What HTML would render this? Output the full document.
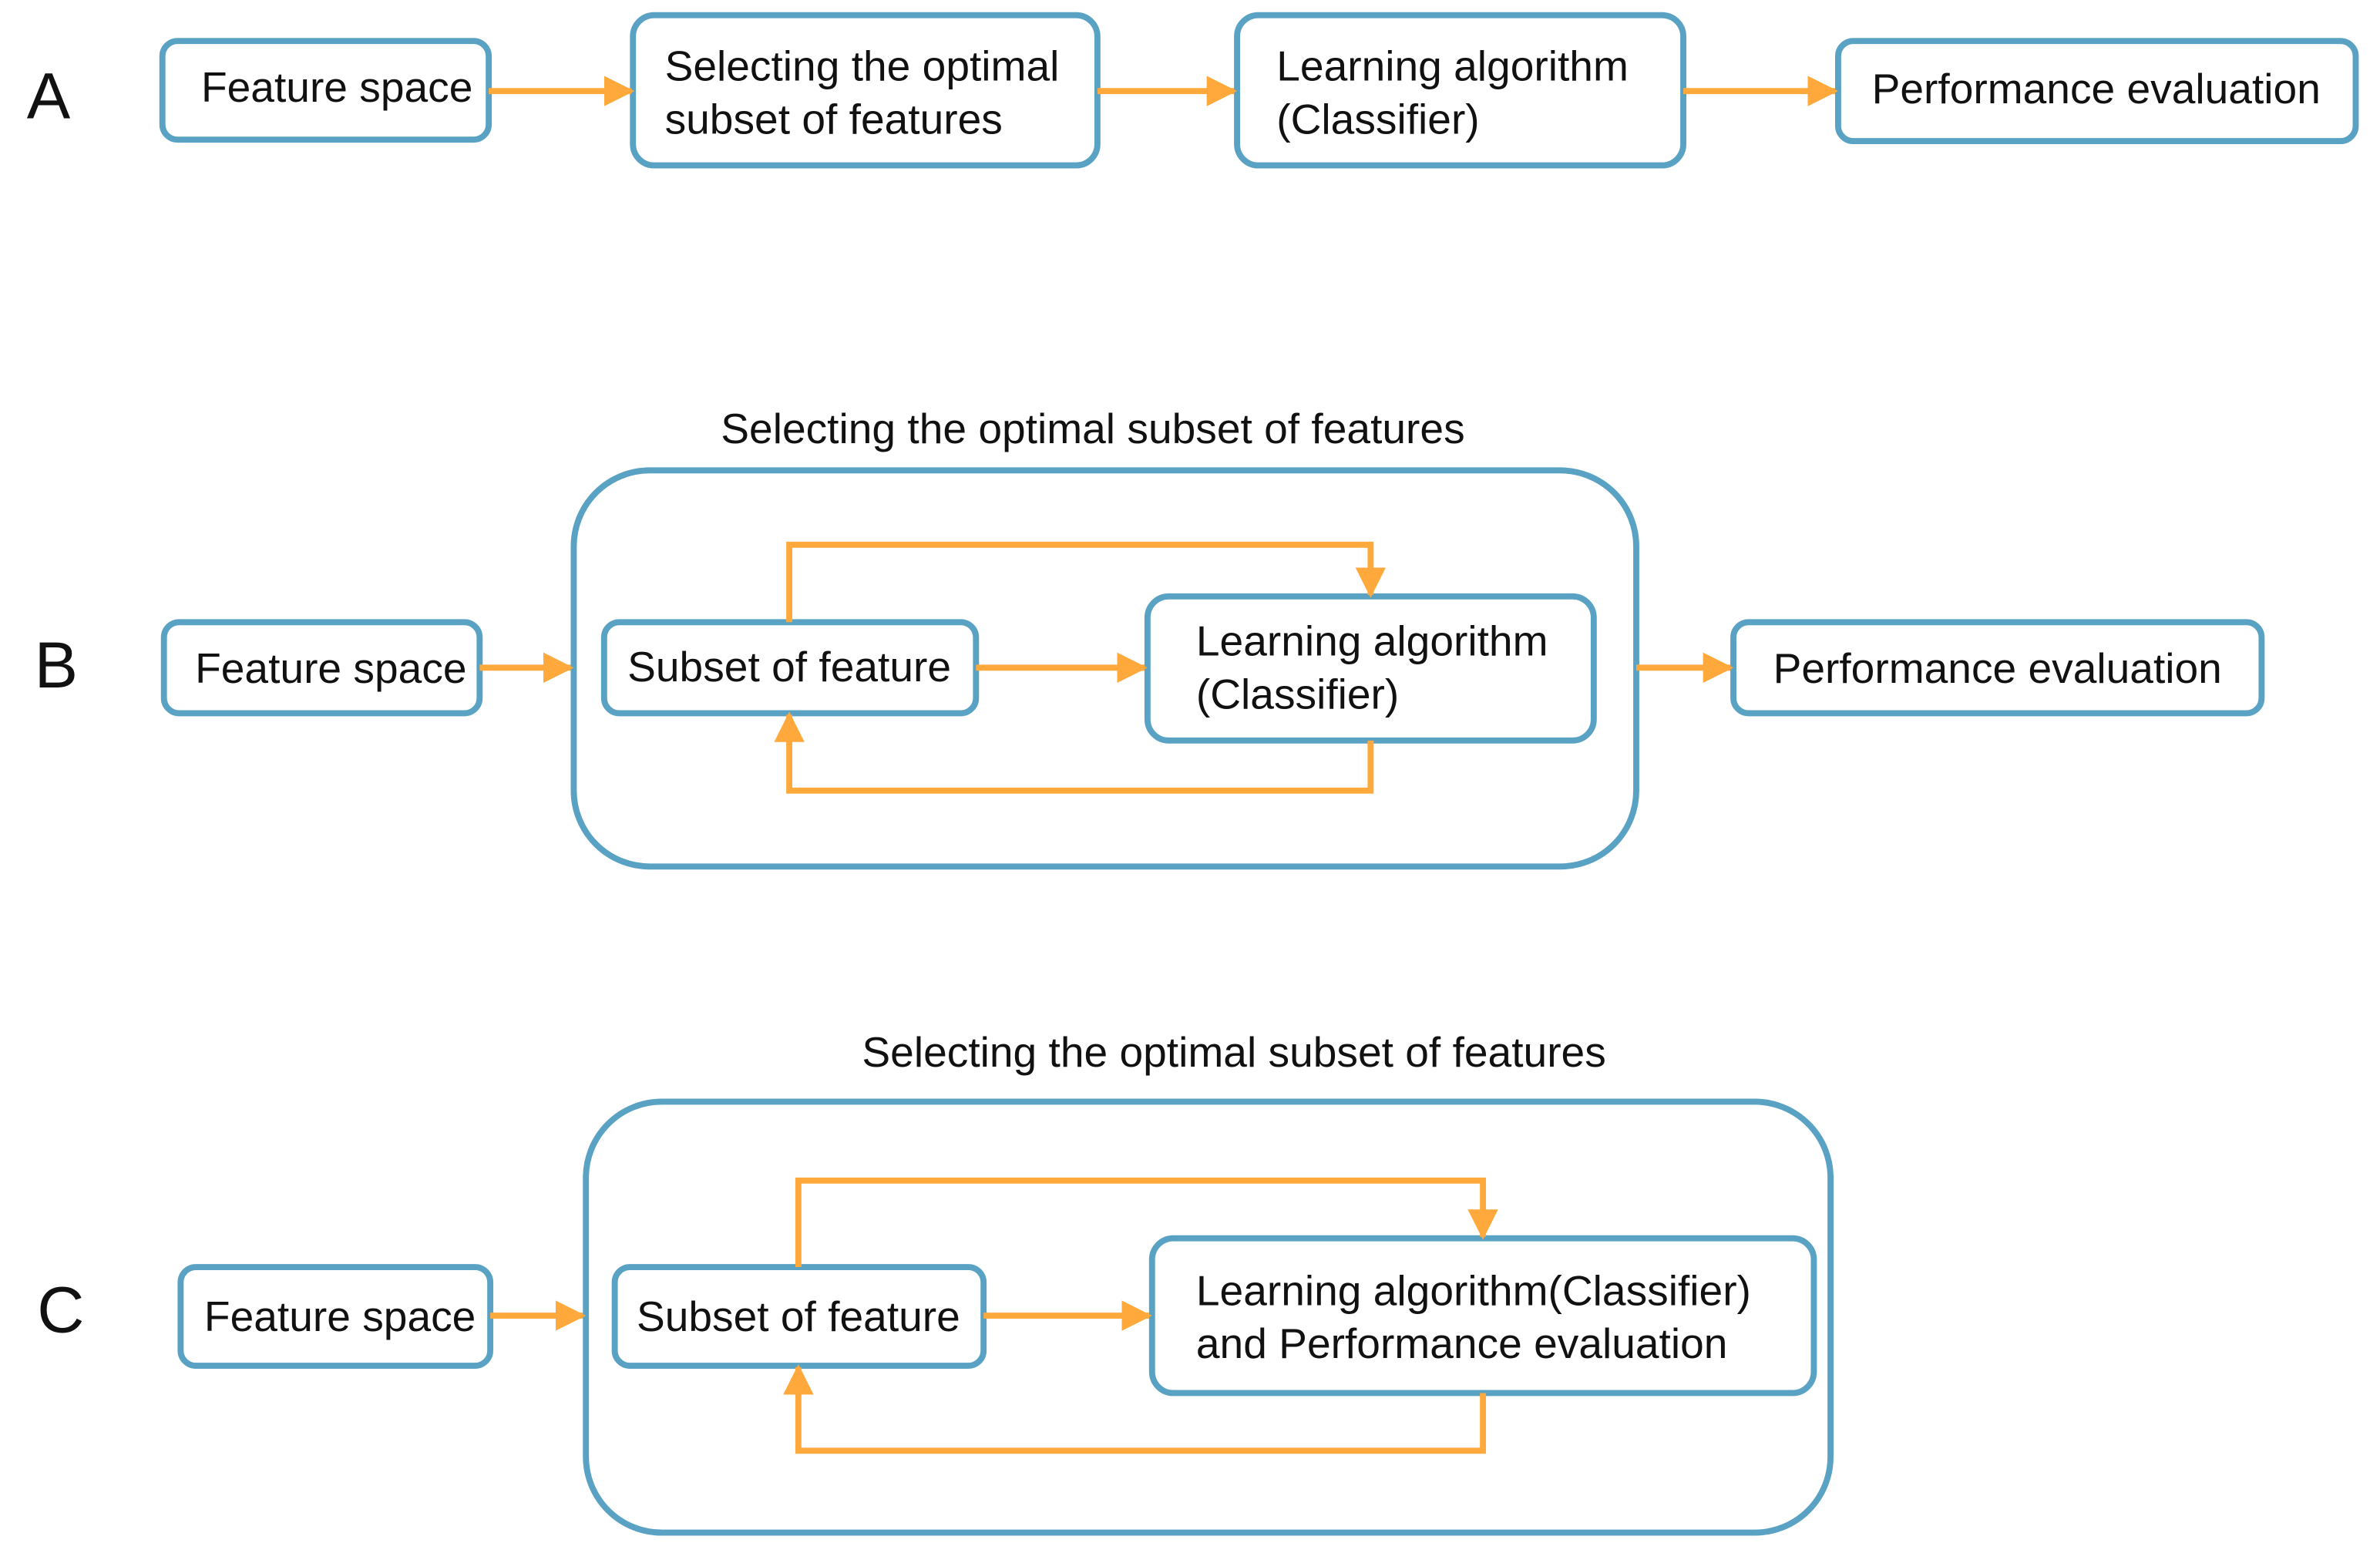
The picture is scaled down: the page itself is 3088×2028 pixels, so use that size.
<!DOCTYPE html>
<html><head><meta charset="utf-8"><style>
html,body{margin:0;padding:0;background:#fff;}
svg{display:block;}
text{font-family:"Liberation Sans",Arial,sans-serif;fill:#111;}
</style></head><body>
<svg width="3088" height="2028" viewBox="0 0 1568 1030" preserveAspectRatio="none" xmlns="http://www.w3.org/2000/svg">
<defs>
<marker id="ar" viewBox="0 0 10 10" refX="9" refY="5" markerWidth="5" markerHeight="5" orient="auto" markerUnits="strokeWidth">
<path d="M0,0 L10,5 L0,10 z" fill="#ffa93c"/></marker>
</defs>
<g fill="#fff" stroke="#5aa2c4" stroke-width="4">
<rect x="107" y="27" width="215" height="65" rx="10"/>
<rect x="417" y="10" width="306" height="99" rx="14"/>
<rect x="815" y="10" width="294" height="99" rx="14"/>
<rect x="1211" y="27" width="341" height="66" rx="10"/>
<rect x="378" y="310" width="700" height="261" rx="50"/>
<rect x="108" y="410" width="208" height="60" rx="10"/>
<rect x="398" y="410" width="245" height="60" rx="10"/>
<rect x="756" y="393" width="294" height="95" rx="14"/>
<rect x="1142" y="410" width="348" height="60" rx="10"/>
<rect x="386" y="726" width="820" height="284" rx="50"/>
<rect x="119" y="835" width="204" height="65" rx="10"/>
<rect x="405" y="835" width="243" height="65" rx="10"/>
<rect x="759" y="816" width="436" height="102" rx="14"/>
</g>
<g fill="none" stroke="#ffa93c" stroke-width="4" marker-end="url(#ar)">
<line x1="322" y1="60" x2="416" y2="60"/>
<line x1="723" y1="60" x2="813" y2="60"/>
<line x1="1109" y1="60" x2="1209" y2="60"/>
<line x1="316" y1="440" x2="376" y2="440"/>
<line x1="643" y1="440" x2="754" y2="440"/>
<line x1="1078" y1="440" x2="1140" y2="440"/>
<polyline points="520,410 520,359 903,359 903,392"/>
<polyline points="903,488 903,521 520,521 520,471"/>
<line x1="323" y1="867" x2="384" y2="867"/>
<line x1="648" y1="867" x2="757" y2="867"/>
<polyline points="526,835 526,778 977,778 977,815"/>
<polyline points="977,918 977,956 526,956 526,901"/>
</g>
<g font-size="28">
<text x="32" y="78" font-size="43" text-anchor="middle">A</text>
<text x="37" y="453" font-size="43" text-anchor="middle">B</text>
<text x="40" y="878" font-size="43" text-anchor="middle">C</text>
<text x="222" y="67" text-anchor="middle">Feature space</text>
<text x="438" y="53">Selecting the optimal</text>
<text x="438" y="88">subset of features</text>
<text x="841" y="53">Learning algorithm</text>
<text x="841" y="88">(Classifier)</text>
<text x="1381" y="68" text-anchor="middle">Performance evaluation</text>
<text x="720" y="292" text-anchor="middle">Selecting the optimal subset of features</text>
<text x="218" y="450" text-anchor="middle">Feature space</text>
<text x="520" y="449" text-anchor="middle">Subset of feature</text>
<text x="788" y="432">Learning algorithm</text>
<text x="788" y="467">(Classifier)</text>
<text x="1316" y="450" text-anchor="middle">Performance evaluation</text>
<text x="813" y="703" text-anchor="middle">Selecting the optimal subset of features</text>
<text x="224" y="877" text-anchor="middle">Feature space</text>
<text x="526" y="877" text-anchor="middle">Subset of feature</text>
<text x="788" y="860">Learning algorithm(Classifier)</text>
<text x="788" y="895">and Performance evaluation</text>
</g>
</svg>
</body></html>
